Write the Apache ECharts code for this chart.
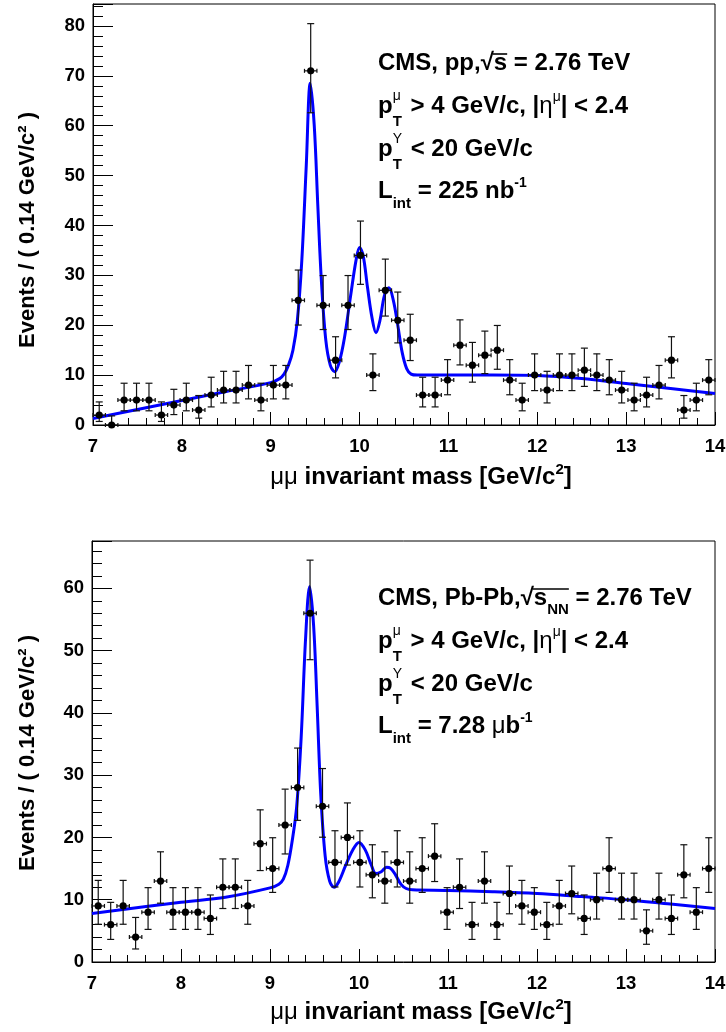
<!DOCTYPE html>
<html><head><meta charset="utf-8">
<script src="https://cdn.jsdelivr.net/npm/echarts@6/dist/echarts.min.js"></script>
<style>html,body{margin:0;padding:0;background:#fff}#c{width:726px;height:1032px}</style>
</head><body><div id="c"></div>
<script>
// ---------- data ----------
const binLow = 7, binWidth = 0.14;
const ppCounts = [2,0,5,5,5,2,4,5,3,6,7,7,8,5,8,8,25,71,24,13,24,34,10,27,21,17,6,6,9,16,12,14,15,9,5,10,7,10,10,11,10,9,7,5,6,8,13,3,5,9];
const pbpbCounts = [9,6,9,4,8,13,8,8,8,7,12,12,9,19,15,22,28,56,25,16,20,16,14,13,16,13,15,17,8,12,6,13,6,11,9,8,6,9,11,7,10,15,10,10,5,10,7,14,8,15];
// fitted curves: [mass, events]
const ppFitMass = [7.0,7.5,8.0,8.5,9.0,9.1,9.15,9.2,9.25,9.3,9.35,9.4,9.445,9.49,9.53,9.57,9.62,9.67,9.72,9.77,9.83,9.9,9.96,10.0,10.04,10.09,10.14,10.185,10.23,10.28,10.33,10.38,10.43,10.48,10.53,10.58,10.65,11.0,11.5,12.0,12.5,13.0,13.5,14.0];
const ppFitVal  = [1.3,3.1,4.9,6.7,8.5,9.3,10.2,12,15,21,33,52,68.5,60,44,29,17,12,10.7,12.5,17.5,26,33,35.6,34,27.5,21.5,18.5,21,26,27.5,25,20,14.5,11.3,10.2,10,10,10,9.9,9.3,8.3,7.3,6.3];
const pbFitMass = [7.0,8.0,8.5,9.0,9.1,9.15,9.2,9.25,9.3,9.35,9.4,9.445,9.49,9.53,9.57,9.62,9.67,9.72,9.77,9.85,9.93,10.0,10.07,10.14,10.19,10.25,10.31,10.35,10.41,10.47,10.53,10.6,11.0,11.5,12.0,12.5,13.0,13.5,14.0];
const pbFitVal  = [7.8,9.6,10.4,11.9,12.5,13.3,15.5,19.5,25,36,52,60.3,54,41,27,17,13,12,12.8,15.5,18,19.2,18,15.5,14.2,14.5,15.2,15.1,14,12.5,11.8,11.6,11.5,11.3,11,10.5,10,9.3,8.6];
const xTicks = {min: 7, max: 14, interval: 1};
const ppYMax = 84.4, pbYMax = 67.6;

// ---------- helpers ----------
const FAM = '"Liberation Sans", Arial, Helvetica, sans-serif';
const mctx = document.createElement('canvas').getContext('2d');
function fnt(s, w){ return (w||'bold') + ' ' + s + 'px ' + FAM; }
function tw(p){ mctx.font = fnt(p.s, p.w); return mctx.measureText(p.t).width; }
function midOff(s, w){ mctx.font = fnt(s, w); const m = mctx.measureText('Hg'); return (m.fontBoundingBoxAscent - m.fontBoundingBoxDescent) / 2; }
const gfx = [];
function addText(x, base, p){
  gfx.push({type:'text', x:x, y: base - midOff(p.s, p.w), silent:true, z:100,
    style:{text:p.t, font:fnt(p.s, p.w), fill:'#000', textAlign:'left', textVerticalAlign:'middle', align:'left', verticalAlign:'middle'}});
}
function lineWidth(pieces){
  let w = 0;
  for (const p of pieces){ if (p.stack){ w += Math.max(...p.stack.map(tw)); } else w += tw(p); }
  return w;
}
function addLine(x, base, pieces, olY){
  let cx = x, o0 = null, o1 = null;
  for (const p of pieces){
    if (p.stack){ let wm = 0; for (const q of p.stack){ addText(cx, base + (q.dy||0), q); wm = Math.max(wm, tw(q)); } cx += wm + 2; continue; }
    const w = tw(p);
    addText(cx, base + (p.dy||0), p);
    if (p.ol){ if (o0 === null) o0 = cx; o1 = cx + w; }
    cx += w;
  }
  if (o0 !== null) gfx.push({type:'line', silent:true, z:100, shape:{x1:o0-1, y1:base-olY, x2:o1, y2:base-olY}, style:{stroke:'#000', lineWidth:1.6}});
}
const B = 24, SUB = 15, SUP = 14;
const subT = {t:'T', s:SUB, dy:12};
function annot(x, b0, first, lint){
  addLine(x, b0, first, 18);
  addLine(x, b0+43, [{t:'p',s:B},{stack:[{t:'μ',s:SUP,w:'normal',dy:-14},subT]},{t:' > 4 GeV/c, |',s:B},{t:'η',s:B,w:'normal'},{t:'μ',s:SUP,w:'normal',dy:-13},{t:'| < 2.4',s:B}]);
  addLine(x, b0+86, [{t:'p',s:B},{stack:[{t:'Υ',s:SUP,w:'normal',dy:-14},subT]},{t:' < 20 GeV/c',s:B}]);
  addLine(x, b0+128, lint);
}
annot(378, 72,
  [{t:'CMS, pp,',s:B},{t:'√',s:B},{t:'s',s:B,ol:true},{t:' = 2.76 TeV',s:B}],
  [{t:'L',s:B},{t:'int',s:SUB,dy:9},{t:' = 225 nb',s:B},{t:'-1',s:SUP,dy:-12}]);
annot(378, 607,
  [{t:'CMS, Pb-Pb,',s:B},{t:'√',s:B},{t:'s',s:B,ol:true},{t:'NN',s:SUB,dy:8,ol:true},{t:' = 2.76 TeV',s:B}],
  [{t:'L',s:B},{t:'int',s:SUB,dy:9},{t:' = 7.28 ',s:B},{t:'μ',s:B,w:'normal'},{t:'b',s:B},{t:'-1',s:SUP,dy:-12}]);

const xTitle = [{t:'μμ',s:B,w:'normal'},{t:' invariant mass [GeV/c',s:B},{t:'2',s:SUB,dy:-11},{t:']',s:B}];
const xtw = lineWidth(xTitle);
addLine(421 - xtw/2, 486, xTitle);
addLine(421 - xtw/2, 1021, xTitle);
function yTitle(cy){
  gfx.push({type:'text', x:28, y:cy, rotation:Math.PI/2, silent:true, z:100,
    style:{text:'Events / ( 0.14 GeV/c² )', font:fnt(22), fill:'#000', textAlign:'center', textVerticalAlign:'middle', align:'center', verticalAlign:'middle'}});
}
yTitle(230); yTitle(753);

// ---------- series data ----------
function garwood(n){
  const lo = n === 0 ? 0 : n * Math.pow(1 - 1/(9*n) - 1/(3*Math.sqrt(n)), 3);
  const m = n + 1, hi = m * Math.pow(1 - 1/(9*m) + 1/(3*Math.sqrt(m)), 3);
  return [lo, hi];
}
function pts(counts){ return counts.map((n, i) => { const e = garwood(n); return [binLow + binWidth*(i+0.5), n, e[0], e[1]]; }); }
function curve(ms, vs){ return ms.map((m, i) => [m, vs[i]]); }

function renderPt(params, api){
  const x = api.value(0), y = api.value(1), lo = api.value(2), hi = api.value(3);
  const c = api.coord([x, y]);
  const l = api.coord([x - binWidth/2, y]), r = api.coord([x + binWidth/2, y]);
  const t = api.coord([x, hi]), b = api.coord([x, lo]);
  const st = {stroke:'#111', lineWidth:1.2};
  const ch = [
    {type:'line', shape:{x1:l[0], y1:c[1], x2:r[0], y2:c[1]}, style:st},
    {type:'line', shape:{x1:l[0], y1:c[1]-2, x2:l[0], y2:c[1]+2}, style:st},
    {type:'line', shape:{x1:r[0], y1:c[1]-2, x2:r[0], y2:c[1]+2}, style:st},
    {type:'line', shape:{x1:c[0], y1:t[1], x2:c[0], y2:b[1]}, style:st},
    {type:'line', shape:{x1:c[0]-3.5, y1:t[1], x2:c[0]+3.5, y2:t[1]}, style:st},
    {type:'circle', shape:{cx:c[0], cy:c[1], r:3.6}, style:{fill:'#000'}}
  ];
  if (lo > 0) ch.push({type:'line', shape:{x1:c[0]-3.5, y1:b[1], x2:c[0]+3.5, y2:b[1]}, style:st});
  return {type:'group', children:ch};
}

const lab = {color:'#000', fontSize:18.5, fontWeight:'bold', fontFamily:FAM};
function xAx(g){
  return {gridIndex:g, type:'value', min:xTicks.min, max:xTicks.max, interval:xTicks.interval,
    axisLine:{show:true, onZero:false, lineStyle:{color:'#000', width:1}},
    axisTick:{show:true, inside:true, length:13, lineStyle:{color:'#000', width:1}},
    minorTick:{show:true, splitNumber:5, length:7, lineStyle:{color:'#000', width:1}},
    axisLabel:{...lab, margin:12, showMinLabel:true, showMaxLabel:true},
    splitLine:{show:false}, minorSplitLine:{show:false}};
}
function yAxMinor(g, max){
  return {gridIndex:g, type:'value', min:0, max:max, interval:2, position:'left',
    axisLine:{show:true, onZero:false, lineStyle:{color:'#000', width:1}},
    axisTick:{show:true, inside:true, length:10, lineStyle:{color:'#000', width:1}},
    axisLabel:{...lab, margin:8, formatter: v => (Math.abs(v % 10) < 1e-9 ? String(v) : '')},
    splitLine:{show:false}};
}
function yAxMajor(g, max, w){
  return {gridIndex:g, type:'value', min:0, max:max, interval:10, position:'right', offset:-w,
    axisLine:{show:false}, axisTick:{show:true, inside:false, length:20, lineStyle:{color:'#000', width:1}},
    axisLabel:{show:false}, splitLine:{show:false}};
}

const chart = echarts.init(document.getElementById('c'), null, {renderer:'canvas'});
chart.setOption({
  animation:false, backgroundColor:'#fff',
  grid:[
    {left:93, top:4, width:622, height:421, show:true, borderColor:'#000', borderWidth:1, backgroundColor:'transparent', containLabel:false, outerBoundsMode:'none'},
    {left:92, top:541, width:623, height:421, show:true, borderColor:'#000', borderWidth:1, backgroundColor:'transparent', containLabel:false, outerBoundsMode:'none'}
  ],
  xAxis:[xAx(0), xAx(1)],
  yAxis:[yAxMinor(0, ppYMax), yAxMajor(0, ppYMax, 622), yAxMinor(1, pbYMax), yAxMajor(1, pbYMax, 623)],
  series:[
    {type:'line', xAxisIndex:0, yAxisIndex:0, data:curve(ppFitMass, ppFitVal), showSymbol:false, smooth:0.35, lineStyle:{color:'#0000ff', width:3}, z:2, silent:true},
    {type:'line', xAxisIndex:1, yAxisIndex:2, data:curve(pbFitMass, pbFitVal), showSymbol:false, smooth:0.35, lineStyle:{color:'#0000ff', width:3}, z:2, silent:true},
    {type:'custom', xAxisIndex:0, yAxisIndex:0, data:pts(ppCounts), renderItem:renderPt, encode:{x:0, y:1}, z:5, silent:true},
    {type:'custom', xAxisIndex:1, yAxisIndex:2, data:pts(pbpbCounts), renderItem:renderPt, encode:{x:0, y:1}, z:5, silent:true}
  ],
  graphic: gfx
});
</script></body></html>
